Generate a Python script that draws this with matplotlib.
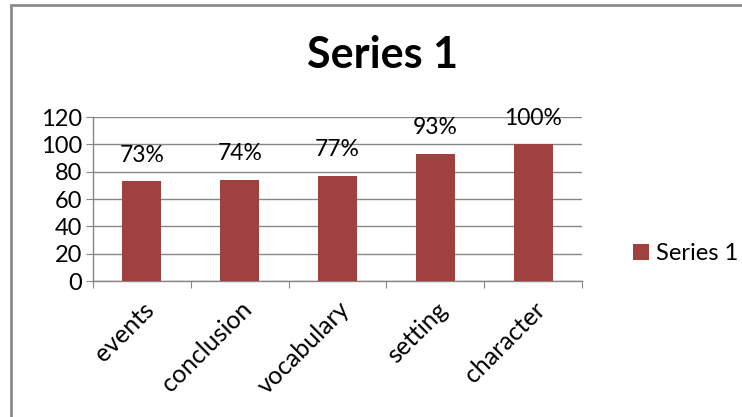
import matplotlib.pyplot as plt
from matplotlib.patches import Rectangle

plt.rcParams['font.family'] = ['Lato', 'DejaVu Sans']

categories = ['events', 'conclusion', 'vocabulary', 'setting', 'character']
values = [73, 74, 77, 93, 100]
labels = ['73%', '74%', '77%', '93%', '100%']
series_name = 'Series 1'

bar_color = '#A0403F'
grid_color = '#868686'

fig = plt.figure(figsize=(7.42, 4.17), dpi=100)
ax = fig.add_axes([93 / 742, 1 - 281 / 417, (582 - 93) / 742, (281 - 117) / 417])

x = list(range(len(categories)))
bars = ax.bar(x, values, width=0.4, color=bar_color, zorder=3, label=series_name)

# data labels above each bar
for xi, v, lab in zip(x, values, labels):
    ax.text(xi, v + 19, lab, ha='center', va='center', fontsize=16.5, zorder=4)

ax.set_xlim(-0.5, len(categories) - 0.5)
ax.set_ylim(0, 120)
ax.set_yticks(range(0, 121, 20))
ax.tick_params(axis='y', labelsize=17, length=5, color=grid_color, pad=3)

# category boundaries get the tick marks, names sit between them
ax.set_xticks([i - 0.5 for i in range(len(categories) + 1)])
ax.set_xticklabels([])
ax.set_xticks(x, minor=True)
ax.set_xticklabels(categories, minor=True, rotation=45, ha='right',
                   rotation_mode='anchor', fontsize=18)
ax.tick_params(axis='x', which='major', length=5, color=grid_color)
ax.tick_params(axis='x', which='minor', length=0, pad=12)

ax.grid(axis='y', color=grid_color, linewidth=1, zorder=0)
for s in ['top', 'right']:
    ax.spines[s].set_visible(False)
for s in ['left', 'bottom']:
    ax.spines[s].set_color(grid_color)
    ax.spines[s].set_linewidth(1)

fig.text(383 / 742, 1 - 55 / 417, series_name, ha='center', va='center',
         fontsize=31, fontweight='bold')

fig.legend(handles=[bars], labels=[series_name], loc='center left',
           bbox_to_anchor=(612 / 742, 1 - 254 / 417), frameon=False,
           fontsize=17, handlelength=0.65, handleheight=0.65, handletextpad=0.3)

# outer chart border (runs off the right and bottom edges)
fig.patches.append(Rectangle((10.5 / 742, -0.2), 1.2, 1.2 - 5.5 / 417,
                             transform=fig.transFigure, fill=False,
                             edgecolor='#8C8C8C', linewidth=2))

fig.savefig('out.png', dpi=100)
